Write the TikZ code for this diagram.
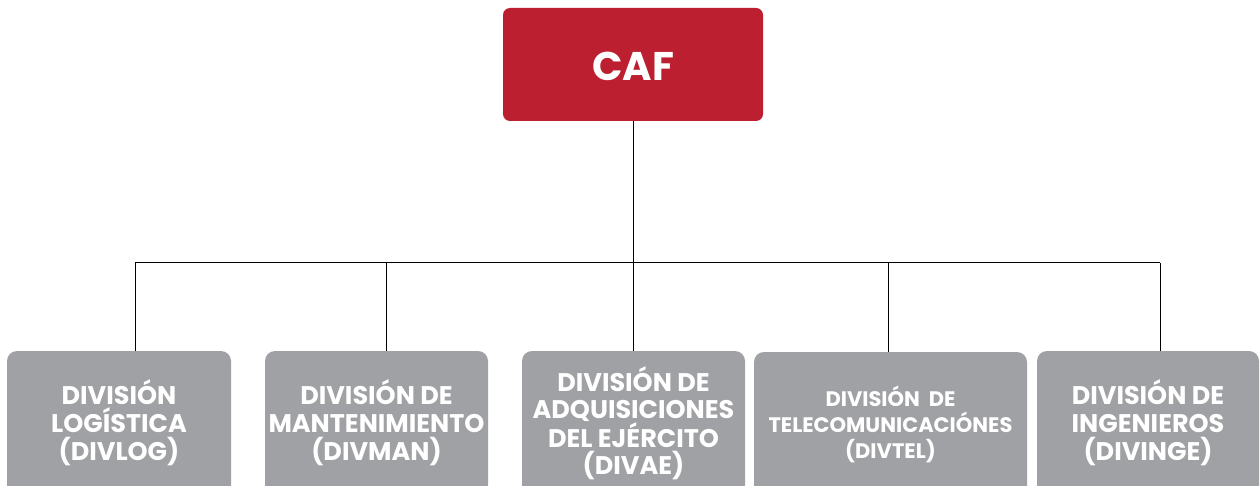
\documentclass[tikz,border=0pt]{standalone}
\usepackage{fontspec}
\setmainfont{Poppins}
\definecolor{cafred}{HTML}{BC1F2F}
\definecolor{divgrey}{HTML}{A0A1A4}
\begin{document}
\begin{tikzpicture}[x=1pt,y=-1pt,
  topbox/.style={rectangle,rounded corners=7pt,fill=cafred,text=white,
    minimum width=260pt,minimum height=113pt,inner sep=0pt,
    font=\fontsize{40}{46}\selectfont\bfseries},
  divbox/.style={rectangle,rounded corners=10pt,fill=divgrey,text=white,
    minimum height=144pt,inner sep=0pt,align=center,
    font=\fontsize{25.5}{28}\selectfont\bfseries},
  conn/.style={draw=black,line width=1pt}]
\useasboundingbox (0,0) rectangle (1260,486);
\clip (0,0) rectangle (1260,486);
\fill[white] (0,0) rectangle (1260,486);
\node[topbox,text height=33pt,text depth=-7pt] (caf) at (633,64.5) {CAF};
\node[divbox,minimum width=224pt] (b1) at (119,423) {DIVISIÓN\\LOGÍSTICA\\(DIVLOG)};
\node[divbox,minimum width=223pt] (b2) at (376.5,423) {DIVISIÓN DE\\MANTENIMIENTO\\(DIVMAN)};
\node[divbox,minimum width=223pt,font=\fontsize{25.5}{27}\selectfont\bfseries] (b3) at (633.5,423) {DIVISIÓN DE\\ADQUISICIONES\\DEL EJÉRCITO\\(DIVAE)};
\node[divbox,minimum width=273pt,font=\fontsize{21}{26}\selectfont\bfseries] (b4) at (890.5,424) {DIVISIÓN\ \ DE\\TELECOMUNICACIÓNES\\(DIVTEL)};
\node[divbox,minimum width=222pt] (b5) at (1148,423) {DIVISIÓN DE\\INGENIEROS\\(DIVINGE)};
\coordinate (j1) at (135,263);
\coordinate (j2) at (386,263);
\coordinate (j3) at (633,263);
\coordinate (j4) at (888,263);
\coordinate (j5) at (1160,263);
\draw[conn] (caf.south) -- (j3);
\draw[conn] (j1) -- (j5);
\draw[conn] (j1) -- (j1 |- b1.north);
\draw[conn] (j2) -- (j2 |- b2.north);
\draw[conn] (j3) -- (j3 |- b3.north);
\draw[conn] (j4) -- (j4 |- b4.north);
\draw[conn] (j5) -- (j5 |- b5.north);
\end{tikzpicture}
\end{document}
